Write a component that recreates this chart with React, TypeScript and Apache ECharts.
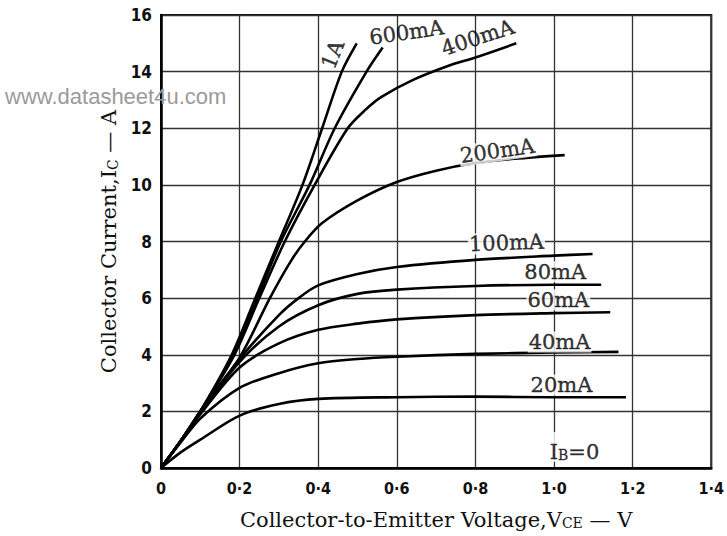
import React, { useEffect, useRef } from "react";
import * as echarts from "echarts";

// Base current curves: [V_CE (V), I_C (A)]
const curve1A = [[0, 0], [0.05, 0.95], [0.1, 2.0], [0.18, 4.0], [0.24, 6.0], [0.3, 8.0], [0.36, 10.0], [0.41, 12.0], [0.46, 14.0], [0.498, 15.0]];
const curve600mA = [[0, 0], [0.05, 0.95], [0.1, 2.0], [0.182, 3.95], [0.245, 6.0], [0.305, 8.0], [0.378, 10.0], [0.442, 12.0], [0.523, 14.0], [0.564, 14.85]];
const curve400mA = [[0, 0], [0.05, 0.95], [0.1, 2.0], [0.185, 3.95], [0.25, 6.0], [0.315, 8.0], [0.391, 10.0], [0.475, 12.0], [0.52, 12.65], [0.56, 13.1], [0.64, 13.7], [0.73, 14.2], [0.8, 14.5], [0.904, 15.0]];
const curve200mA = [[0, 0], [0.05, 0.95], [0.1, 2.0], [0.2, 3.9], [0.277, 6.0], [0.33, 7.3], [0.366, 8.0], [0.41, 8.65], [0.5, 9.45], [0.6, 10.1], [0.7, 10.5], [0.8, 10.77], [0.9, 10.92], [1.027, 11.05]];
const curve100mA = [[0, 0], [0.05, 0.95], [0.1, 2.0], [0.2, 3.85], [0.3, 5.4], [0.35, 6.0], [0.4, 6.45], [0.5, 6.85], [0.6, 7.1], [0.8, 7.35], [1.0, 7.5], [1.098, 7.56]];
const curve80mA = [[0, 0], [0.05, 0.95], [0.1, 1.95], [0.2, 3.75], [0.3, 5.0], [0.4, 5.75], [0.5, 6.15], [0.6, 6.3], [0.8, 6.43], [1.0, 6.47], [1.12, 6.47]];
const curve60mA = [[0, 0], [0.05, 0.95], [0.1, 1.9], [0.2, 3.55], [0.3, 4.4], [0.4, 4.88], [0.5, 5.1], [0.6, 5.25], [0.8, 5.4], [1.0, 5.47], [1.143, 5.5]];
const curve40mA = [[0, 0], [0.05, 0.9], [0.1, 1.75], [0.2, 2.83], [0.3, 3.35], [0.4, 3.7], [0.5, 3.85], [0.6, 3.93], [0.8, 4.03], [1.0, 4.08], [1.164, 4.1]];
const curve20mA = [[0, 0], [0.05, 0.55], [0.1, 1.0], [0.2, 1.85], [0.3, 2.26], [0.4, 2.44], [0.6, 2.5], [0.8, 2.52], [1.0, 2.5], [1.183, 2.5]];

const curves = [curve1A, curve600mA, curve400mA, curve200mA, curve100mA, curve80mA, curve60mA, curve40mA, curve20mA];

// Curve labels: text, anchor [V, A], rotation (deg)
const labelTexts = ["1A", "600mA", "400mA", "200mA", "100mA", "80mA", "60mA", "40mA", "20mA", "{t|I}{s|B}{t|=0}"];
const labelPositions = [[0.437, 14.6], [0.625, 15.38], [0.806, 15.2], [0.856, 11.2], [0.879, 7.95], [1.003, 6.93], [1.011, 5.94], [1.014, 4.45], [1.019, 2.93], [1.052, 0.74]];
const labelRotations = [68, 8, 18, 8, 2, 0, 0, 0, 0, 0];

const xMin = 0, xMax = 1.4, xStep = 0.2;
const yMin = 0, yMax = 16, yStep = 2;

const xTitle = "{t|Collector-to-Emitter Voltage,V}{s|CE}{t| — V}";
const yTitle = "{t|Collector Current,I}{s|C}{t| — A}";
const watermark = "www.datasheet4u.com";

const serif = "'DejaVu Serif', 'Liberation Serif', serif";
const tickFont = "'DejaVu Sans Condensed', 'DejaVu Sans', sans-serif";

export default function App() {
  const ref = useRef<HTMLDivElement>(null);
  useEffect(() => {
    if (!ref.current) return;
    const chart = echarts.init(ref.current, null, { renderer: "svg" });
    const lineSeries = curves.map((c) => ({
      type: "line",
      data: c,
      smooth: 0.3,
      showSymbol: false,
      symbol: "none",
      silent: true,
      lineStyle: { color: "#000", width: 2.6 },
      z: 3,
    }));
    const labelRich = {
      t: { fontFamily: serif, fontSize: 21, color: "#000", lineHeight: 30, verticalAlign: "bottom", textBorderColor: "#000", textBorderWidth: 0.4 },
      s: { fontFamily: serif, fontSize: 14, color: "#000", lineHeight: 12, verticalAlign: "bottom", textBorderColor: "#000", textBorderWidth: 0.3 },
    };
    const labelSeries = {
      type: "scatter",
      symbolSize: 0,
      silent: true,
      z: 5,
      data: labelTexts.map((t, i) => ({
        value: labelPositions[i],
        label: {
          show: true,
          position: "inside",
          formatter: t,
          rotate: labelRotations[i],
          color: "#000",
          fontFamily: serif,
          fontSize: 21,
          textBorderColor: "#000",
          textBorderWidth: 0.4,
          backgroundColor: i >= 3 ? "#fff" : "transparent",
          padding: [0, 1],
          rich: labelRich,
        },
      })),
    };
    const titleRich = {
      t: { fontFamily: serif, fontSize: 21, color: "#111", lineHeight: 30, verticalAlign: "bottom" },
      s: { fontFamily: serif, fontSize: 14, color: "#111", lineHeight: 12, verticalAlign: "bottom" },
    };
    const fmtX = (v: number) => (Math.abs(v) < 1e-9 ? "0" : v.toFixed(1).replace(".", "·"));
    chart.setOption({
      animation: false,
      backgroundColor: "#fff",
      grid: {
        left: 161,
        right: 15,
        top: 15,
        bottom: 68,
        show: true,
        borderColor: "#111",
        borderWidth: 2,
        backgroundColor: "transparent",
      },
      xAxis: {
        type: "value",
        min: xMin,
        max: xMax,
        interval: xStep,
        name: xTitle,
        nameLocation: "middle",
        nameGap: 32,
        nameTextStyle: { rich: titleRich },
        axisLine: { show: true, lineStyle: { color: "#000", width: 2.5 } },
        axisTick: { show: false },
        axisLabel: {
          formatter: fmtX,
          margin: 12,
          fontFamily: tickFont,
          fontWeight: "bold",
          fontSize: 16,
          color: "#111",
        },
        splitLine: { show: true, lineStyle: { color: "#333", width: 1.3 } },
      },
      yAxis: {
        type: "value",
        min: yMin,
        max: yMax,
        interval: yStep,
        name: yTitle,
        nameLocation: "middle",
        nameGap: 38,
        nameRotate: 90,
        nameTextStyle: { rich: titleRich },
        axisLine: { show: true, lineStyle: { color: "#000", width: 2.5 } },
        axisTick: { show: false },
        axisLabel: {
          margin: 9,
          fontFamily: tickFont,
          fontWeight: "bold",
          fontSize: 17,
          color: "#111",
        },
        splitLine: { show: true, lineStyle: { color: "#333", width: 1.3 } },
      },
      graphic: [
        {
          type: "text",
          left: 5,
          top: 85,
          z: 10,
          style: {
            text: watermark,
            fill: "#9a9a9a",
            font: "22px 'Liberation Sans', Arial, sans-serif",
          },
        },
      ],
      series: [...lineSeries, labelSeries],
    });
    return () => chart.dispose();
  }, []);
  return (
    <div
      ref={ref}
      style={{ position: "fixed", left: 0, top: 0, width: 727, height: 536 }}
    />
  );
}
